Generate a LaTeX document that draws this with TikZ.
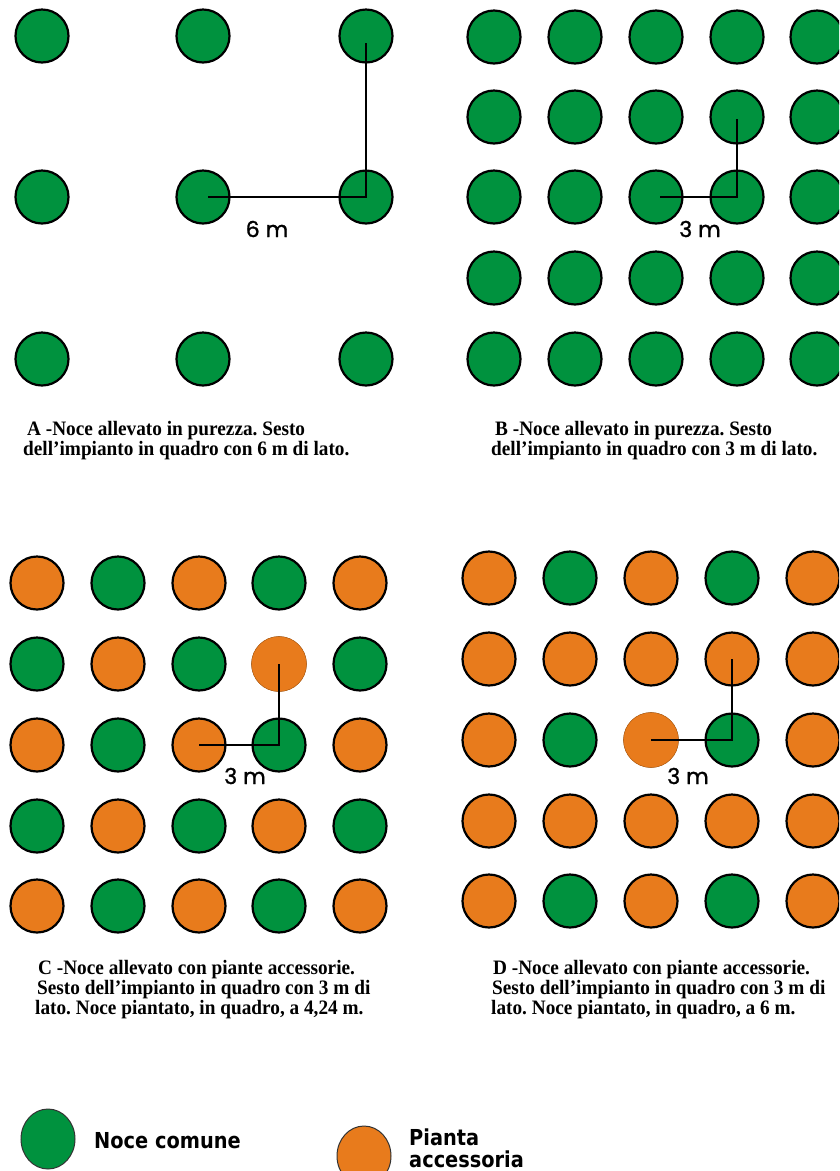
\documentclass[tikz,border=0pt]{standalone}
\usepackage{fontspec}
\setmainfont{Liberation Serif}
\newfontfamily\capfont[FakeStretch=0.94]{Liberation Serif}
\newfontfamily\labfont[FakeBold=1.2]{Poppins}
\newfontfamily\legfont[FakeStretch=0.88]{DejaVu Sans}
\definecolor{noce}{RGB}{0,146,62}
\definecolor{acc}{RGB}{232,123,28}
\tikzset{
  tree/.style={circle, draw=black, line width=2.2pt, minimum size=53pt, inner sep=0pt},
  gtree/.style={tree, fill=noce},
  otree/.style={tree, fill=acc},
  ntree/.style={circle, draw=acc!85!black, line width=0.5pt, fill=acc, minimum size=55pt, inner sep=0pt},
  meas/.style={draw=black, line width=2.2pt},
  dist/.style={font=\labfont\fontsize{22}{22}\selectfont, inner sep=0pt},
  capt/.style={font=\capfont\bfseries\frenchspacing\fontsize{20.5}{19.5}\selectfont, anchor=base west, inner sep=0pt},
  legt/.style={font=\legfont\bfseries\fontsize{22}{24}\selectfont, anchor=base west, inner sep=0pt},
}
\begin{document}
\begin{tikzpicture}[x=1pt,y=-1pt]
\useasboundingbox (0,0) rectangle (839,1171);
\clip (0,0) rectangle (839,1171);
% Panel A
\foreach \x [count=\i] in {42,203,366}
  \foreach \y [count=\j] in {36,197,359}
    \node[gtree] (a\j\i) at (\x,\y) {};
\draw[meas] ([xshift=5pt]a22.center) -- (a23.center) -- ([yshift=-7pt]a13.center);
\node[dist] (la) at (267,229) {6 m};
% Panel B
\foreach \x [count=\i] in {494,575,656,737,817}
  \foreach \y [count=\j] in {37,117,197,278,359}
    \node[gtree] (b\j\i) at (\x,\y) {};
\draw[meas] ([xshift=4pt]b33.center) -- (b34.center) -- ([yshift=-2pt]b24.center);
\node[dist] (lb) at (700,229) {3 m};
% Panel C
\foreach \x [count=\i] in {37,118,199,279,360}
  \foreach \y [count=\j] in {583,664,745,826,906} {
    \pgfmathtruncatemacro{\pp}{mod(\i+\j,2)}
    \ifnum\pp=0 \node[otree] (c\j\i) at (\x,\y) {};
    \else \node[gtree] (c\j\i) at (\x,\y) {}; \fi
  }
\node[ntree] (c24n) at (c24) {};
\draw[meas] (c33.center) -- (c34.center) -- (c24.center);
\node[dist] (lc) at (245,776) {3 m};
% Panel D
\foreach \x [count=\i] in {489,570,651,732,813}
  \foreach \y [count=\j] in {578,659,740,821,901} {
    \pgfmathtruncatemacro{\ev}{mod(\j,2)}
    \pgfmathtruncatemacro{\ec}{mod(\i,2)}
    \ifnum\ev=1 \ifnum\ec=0 \node[gtree] (d\j\i) at (\x,\y) {};
      \else \node[otree] (d\j\i) at (\x,\y) {}; \fi
    \else \node[otree] (d\j\i) at (\x,\y) {}; \fi
  }
\node[ntree] (d33n) at (d33) {};
\draw[meas] (d33.center) -- (d34.center) -- (d24.center);
\node[dist] (ld) at (688,776) {3 m};
% Captions
\node[capt] (ca1) at (27,435) {A -Noce allevato in purezza. Sesto};
\node[capt] (ca2) at (23,455) {dell’impianto in quadro con 6 m di lato.};
\node[capt] (cb1) at (495,435) {B -Noce allevato in purezza. Sesto};
\node[capt] (cb2) at (491,455) {dell’impianto in quadro con 3 m di lato.};
\node[capt] (cc1) at (38,974) {C -Noce allevato con piante accessorie.};
\node[capt] (cc2) at (37,994) {Sesto dell’impianto in quadro con 3 m di};
\node[capt] (cc3) at (35,1014) {lato. Noce piantato, in quadro, a 4,24 m.};
\node[capt] (cd1) at (493,974) {D -Noce allevato con piante accessorie.};
\node[capt] (cd2) at (492,994) {Sesto dell’impianto in quadro con 3 m di};
\node[capt] (cd3) at (491,1014) {lato. Noce piantato, in quadro, a 6 m.};
% Legend
\draw[fill=noce, draw=black!80, line width=1pt] (48,1139) ellipse [x radius=27, y radius=30];
\node[legt] (ln) at (94,1148) {Noce comune};
\draw[fill=acc, draw=black!80, line width=1pt] (364,1156) ellipse [x radius=27, y radius=30];
\node[legt] (lp1) at (409,1145) {Pianta};
\node[legt] (lp2) at (409,1167) {accessoria};
\end{tikzpicture}
\end{document}
